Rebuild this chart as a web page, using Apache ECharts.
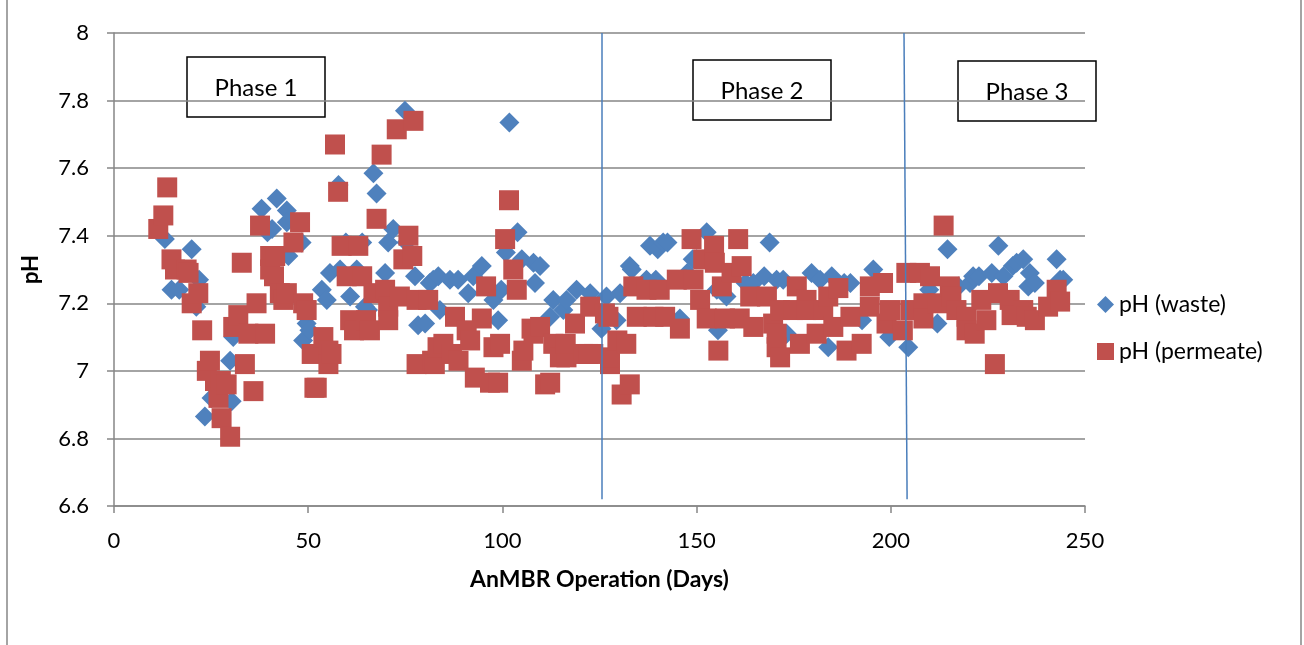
<!DOCTYPE html>
<html>
<head>
<meta charset="utf-8">
<script src="https://cdn.jsdelivr.net/npm/echarts@6/dist/echarts.min.js"></script>
<style>
html,body{margin:0;padding:0;background:#fff;}
#c{width:1304px;height:645px;}
</style>
</head>
<body>
<div id="c"></div>
<script>
// ---- data ----
const seriesNames = ['pH (waste)', 'pH (permeate)'];
const xTicks = [0, 50, 100, 150, 200, 250];
const yTicks = [6.6, 6.8, 7, 7.2, 7.4, 7.6, 7.8, 8];
const phaseLabels = ['Phase 1', 'Phase 2', 'Phase 3'];
const phaseStartDays = [125.6, 203.7];

const wasteDays = [13.1,14.8,16.8,20,21.9,21.2,23.4,25.1,29.9,30.3,30.7,38,39.5,40.7,41.9,44.5,44.5,44.9,48.3,48.7,49.6,50.3,53.5,54.8,55.6,57.8,58.2,59.7,60.8,62.5,63.9,64.6,65.4,66.8,67.6,69.8,70.6,71.9,74.9,75.3,77.5,78.3,80.1,81.3,82.2,83.5,83.9,86.5,88.6,91.2,92.5,94.7,97.7,98.9,99.7,100.9,101.8,103.9,105,108,108.4,109.7,112.3,113.1,115.7,116.5,119.1,122.6,125.5,126.8,129.4,130.3,132.8,133.3,137.1,138,139.5,140,141.4,142.5,145.7,147.6,149,150,152.6,155.2,155.5,157.7,162.6,164.6,167.4,168.8,170.6,172.3,173.2,179.6,181.8,183.9,184.8,188,189.6,192.6,195.5,199.6,204.5,209.9,212,214.6,217.4,220.4,221.2,222.7,226,227.7,229,231.4,232.4,234.1,235.4,235.8,237.1,242.7,243.6,244.4];
const wastePH = [7.39,7.24,7.24,7.36,7.27,7.19,6.865,6.92,7.03,6.91,7.10,7.48,7.41,7.42,7.51,7.475,7.44,7.34,7.38,7.09,7.14,7.12,7.24,7.21,7.29,7.55,7.30,7.38,7.22,7.30,7.38,7.19,7.18,7.585,7.525,7.29,7.38,7.42,7.77,7.38,7.28,7.135,7.14,7.26,7.27,7.28,7.18,7.27,7.27,7.23,7.28,7.31,7.21,7.15,7.24,7.35,7.735,7.41,7.33,7.32,7.26,7.31,7.16,7.21,7.18,7.21,7.24,7.23,7.125,7.22,7.15,7.23,7.31,7.30,7.27,7.37,7.27,7.36,7.38,7.38,7.155,7.29,7.33,7.33,7.41,7.24,7.12,7.22,7.26,7.26,7.28,7.38,7.27,7.27,7.11,7.29,7.27,7.07,7.28,7.26,7.26,7.15,7.30,7.10,7.07,7.24,7.14,7.36,7.25,7.26,7.28,7.28,7.29,7.37,7.28,7.31,7.32,7.33,7.25,7.29,7.26,7.33,7.27,7.27];

const permDays = [11.4,12.7,13.7,14.8,15.7,18.7,19.2,20,21.7,22.7,23.9,24.7,26,26.9,27.5,27.7,29,29.9,30.7,32,32.9,33.7,34.6,35.9,36.7,37.6,38.9,40.2,40.2,41.2,41.5,42.7,43.6,44.5,46.2,47.9,48.7,49.6,50.9,51.6,52.2,53.9,55.2,55.2,56,56.9,57.7,58.6,59.9,60.8,61.8,62.9,63.9,64.9,65.9,66.8,67.6,68.9,69.8,70.6,70.6,72.8,73.6,74.5,75.8,76.8,77.1,77.9,77.9,80.9,81.9,82.6,83.3,84.8,87,87.8,88.7,90.8,91.7,92.9,94.7,95.8,96.8,97.7,98.9,99.4,100.7,101.7,102.8,103.7,105,105.4,107.5,108,109.7,111,112.3,113.1,114.8,116.5,116.3,118.7,120.8,122.1,122.6,123.4,126.4,127.3,127.7,127.7,129.6,130.7,131.9,132.8,133.7,134.6,137.1,138.9,140.5,141.9,144.9,145.7,148.7,149.2,150.9,151.7,152.6,154.5,154.7,155.6,156.5,157.3,159,160.7,161.1,161.6,163.8,164.6,168.1,169.7,170.6,170.6,171.5,171.5,174.9,175.8,176.6,178.3,178.3,180.9,182.6,183.9,185.2,186.5,188.6,189.6,192.5,194.6,194.6,198,198.9,199.8,203.1,204,205,207.5,208.4,208.4,210.1,212,213.6,215.2,215.6,216.9,219.5,219.5,221.6,223.3,224.6,226.8,227.6,230.6,231.1,234.1,235,237.1,240.5,242.7,243.6];
const permPH = [7.42,7.46,7.543,7.33,7.30,7.30,7.29,7.20,7.23,7.12,7.00,7.03,6.97,6.92,6.97,6.86,6.96,6.805,7.13,7.165,7.32,7.02,7.11,6.94,7.20,7.43,7.11,7.34,7.30,7.28,7.34,7.23,7.21,7.23,7.38,7.44,7.20,7.18,7.05,6.95,6.95,7.10,7.06,7.02,7.05,7.67,7.53,7.37,7.28,7.15,7.12,7.37,7.28,7.15,7.12,7.23,7.45,7.64,7.24,7.19,7.15,7.715,7.22,7.33,7.40,7.34,7.74,7.21,7.02,7.21,7.03,7.02,7.07,7.08,7.05,7.16,7.03,7.12,7.09,6.98,7.155,7.25,6.965,7.07,6.965,7.08,7.39,7.505,7.30,7.24,7.03,7.06,7.125,7.11,7.13,6.96,6.965,7.08,7.04,7.04,7.08,7.14,7.05,7.05,7.19,7.05,7.17,7.16,7.02,7.04,7.09,6.93,7.08,6.96,7.25,7.16,7.24,7.16,7.24,7.16,7.27,7.125,7.39,7.27,7.21,7.33,7.155,7.37,7.32,7.06,7.25,7.155,7.29,7.39,7.155,7.31,7.22,7.13,7.22,7.14,7.07,7.11,7.04,7.18,7.18,7.25,7.08,7.21,7.18,7.11,7.18,7.22,7.13,7.245,7.06,7.16,7.08,7.25,7.19,7.26,7.14,7.18,7.12,7.29,7.18,7.29,7.20,7.155,7.28,7.20,7.43,7.25,7.22,7.18,7.16,7.12,7.11,7.21,7.15,7.02,7.23,7.21,7.165,7.18,7.16,7.15,7.19,7.24,7.205];

// ---- chart ----
const FONT = 'Lato';
const wasteData = wasteDays.map((d, i) => [d, wastePH[i]]);
const permData = permDays.map((d, i) => [d, permPH[i]]);

const chart = echarts.init(document.getElementById('c'), null, {renderer: 'canvas'});

function phaseBox(cx, cy, text) {
  return {
    type: 'group',
    z: 100,
    children: [
      {type: 'rect', shape: {x: cx - 69, y: cy - 30, width: 138, height: 60},
       style: {fill: '#fff', stroke: '#000', lineWidth: 1.5}},
      {type: 'text', x: cx, y: cy + 1,
       style: {text: text, fill: '#000', font: '24px ' + FONT, align: 'center', verticalAlign: 'middle'}}
    ]
  };
}

chart.setOption({
  animation: false,
  backgroundColor: '#fff',
  grid: {left: 114, right: 219, top: 33, bottom: 139, containLabel: false},
  xAxis: {
    type: 'value', min: xTicks[0], max: xTicks[xTicks.length - 1], interval: 50,
    name: 'AnMBR Operation (Days)', nameLocation: 'middle', nameGap: 62,
    nameTextStyle: {fontFamily: FONT, fontSize: 23, fontWeight: 'bold', color: '#000'},
    axisLine: {show: true, onZero: false, lineStyle: {color: '#868686', width: 1.5}},
    axisTick: {show: true, length: 7, lineStyle: {color: '#868686', width: 1.5}},
    axisLabel: {fontFamily: FONT, fontSize: 22, color: '#000', margin: 24},
    splitLine: {show: false}
  },
  yAxis: {
    type: 'value', min: yTicks[0], max: yTicks[yTicks.length - 1], interval: 0.2,
    name: 'pH', nameLocation: 'middle', nameGap: 72, nameRotate: 90,
    nameTextStyle: {fontFamily: FONT, fontSize: 22, fontWeight: 'bold', color: '#000'},
    axisLine: {show: true, lineStyle: {color: '#868686', width: 1.5}},
    axisTick: {show: true, length: 7, lineStyle: {color: '#868686', width: 1.5}},
    axisLabel: {fontFamily: FONT, fontSize: 22, color: '#000', margin: 25,
      formatter: v => String(Math.round(v * 10) / 10)},
    splitLine: {show: true, lineStyle: {color: '#868686', width: 1.5}}
  },
  legend: {
    orient: 'vertical', left: 1092, top: 288, itemGap: 24,
    itemWidth: 17, itemHeight: 17,
    textStyle: {fontFamily: FONT, fontSize: 23, color: '#000'},
    data: [
      {name: seriesNames[0], icon: 'diamond'},
      {name: seriesNames[1], icon: 'rect'}
    ]
  },
  series: [
    {
      name: seriesNames[0], type: 'scatter', data: wasteData,
      symbol: 'diamond', symbolSize: 20,
      itemStyle: {color: '#4f81bd', opacity: 1},
      markLine: {
        silent: true, symbol: 'none', label: {show: false},
        lineStyle: {color: '#4a7ebb', width: 1.5, type: 'solid'},
        data: [
          [{coord: [phaseStartDays[0], 8]}, {coord: [phaseStartDays[0], 6.62]}],
          [{coord: [phaseStartDays[1] - 0.3, 8]}, {coord: [phaseStartDays[1] + 0.5, 6.62]}]
        ]
      },
      z: 2
    },
    {
      name: seriesNames[1], type: 'scatter', data: permData,
      symbol: 'rect', symbolSize: 20,
      itemStyle: {color: '#c0504d', opacity: 1},
      z: 3
    }
  ],
  graphic: [
    {type: 'line', shape: {x1: 7, y1: -2, x2: 7, y2: 650}, style: {stroke: '#868686', lineWidth: 1.5}},
    {type: 'line', shape: {x1: 1301, y1: -2, x2: 1301, y2: 650}, style: {stroke: '#868686', lineWidth: 1.5}},
    phaseBox(256, 87, phaseLabels[0]),
    phaseBox(762, 90, phaseLabels[1]),
    phaseBox(1027, 91, phaseLabels[2])
  ]
});
</script>
</body>
</html>
